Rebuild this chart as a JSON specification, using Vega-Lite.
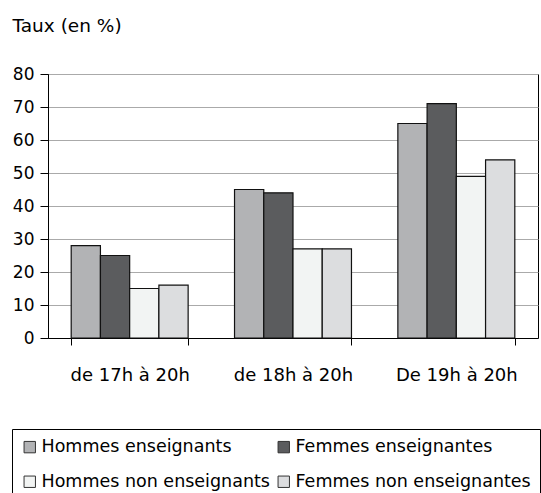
{
  "$schema": "https://vega.github.io/schema/vega-lite/v6.json",
  "width": 490,
  "height": 264,
  "autosize": "none",
  "padding": {"left": 48, "top": 74, "right": 3, "bottom": 155},
  "background": "white",
  "config": {
    "font": "DejaVu Sans",
    "view": {"stroke": "black", "strokeWidth": 1}
  },
  "data": {
    "values": [
      {"periode": "de 17h à 20h", "groupe": "Hommes enseignants", "taux": 28},
      {"periode": "de 17h à 20h", "groupe": "Femmes enseignantes", "taux": 25},
      {"periode": "de 17h à 20h", "groupe": "Hommes non enseignants", "taux": 15},
      {"periode": "de 17h à 20h", "groupe": "Femmes non enseignantes", "taux": 16},
      {"periode": "de 18h à 20h", "groupe": "Hommes enseignants", "taux": 45},
      {"periode": "de 18h à 20h", "groupe": "Femmes enseignantes", "taux": 44},
      {"periode": "de 18h à 20h", "groupe": "Hommes non enseignants", "taux": 27},
      {"periode": "de 18h à 20h", "groupe": "Femmes non enseignantes", "taux": 27},
      {"periode": "De 19h à 20h", "groupe": "Hommes enseignants", "taux": 65},
      {"periode": "De 19h à 20h", "groupe": "Femmes enseignantes", "taux": 71},
      {"periode": "De 19h à 20h", "groupe": "Hommes non enseignants", "taux": 49},
      {"periode": "De 19h à 20h", "groupe": "Femmes non enseignantes", "taux": 54}
    ]
  },
  "mark": {"type": "bar", "stroke": "#111111", "strokeWidth": 1.2},
  "encoding": {
    "x": {
      "field": "periode",
      "type": "nominal",
      "sort": ["de 17h à 20h", "de 18h à 20h", "De 19h à 20h"],
      "scale": {"paddingInner": 0.284, "paddingOuter": 0.142},
      "axis": {
        "title": null,
        "labelAngle": 0,
        "domainColor": "black",
        "tickColor": "black",
        "tickSize": 7,
        "tickBand": "extent",
        "labelFontSize": 18,
        "labelColor": "black",
        "labelBaseline": "alphabetic",
        "labelPadding": 35,
        "grid": false
      }
    },
    "xOffset": {
      "field": "groupe",
      "type": "nominal",
      "sort": ["Hommes enseignants", "Femmes enseignantes", "Hommes non enseignants", "Femmes non enseignantes"],
      "scale": {"paddingInner": 0, "paddingOuter": 0}
    },
    "y": {
      "field": "taux",
      "type": "quantitative",
      "scale": {"domain": [0, 80], "nice": false},
      "axis": {
        "values": [0, 10, 20, 30, 40, 50, 60, 70, 80],
        "grid": true,
        "gridColor": "#aaaaaa",
        "gridWidth": 1,
        "domainColor": "black",
        "tickColor": "black",
        "tickSize": 8,
        "labelFontSize": 17,
        "labelColor": "black",
        "labelPadding": 6,
        "title": "Taux (en %)",
        "titleAngle": 0,
        "titleAlign": "left",
        "titleBaseline": "alphabetic",
        "titleX": -36,
        "titleY": -43,
        "titleFontSize": 18.5,
        "titleFontWeight": "normal",
        "titleColor": "black"
      }
    },
    "color": {
      "field": "groupe",
      "type": "nominal",
      "scale": {
        "domain": ["Hommes enseignants", "Femmes enseignantes", "Hommes non enseignants", "Femmes non enseignantes"],
        "range": ["#b2b3b5", "#5b5c5e", "#f2f4f3", "#dcdddf"]
      },
      "legend": {
        "orient": "none",
        "direction": "horizontal",
        "legendX": -36,
        "legendY": 355,
        "columns": 2,
        "title": null,
        "symbolType": "square",
        "symbolSize": 130,
        "symbolStrokeColor": "#333333",
        "symbolStrokeWidth": 1,
        "symbolOpacity": 1,
        "labelFontSize": 17.5,
        "labelColor": "black",
        "labelOffset": 3,
        "labelLimit": 400,
        "columnPadding": 5,
        "rowPadding": 16,
        "padding": 9,
        "strokeColor": "black"
      }
    }
  }
}
